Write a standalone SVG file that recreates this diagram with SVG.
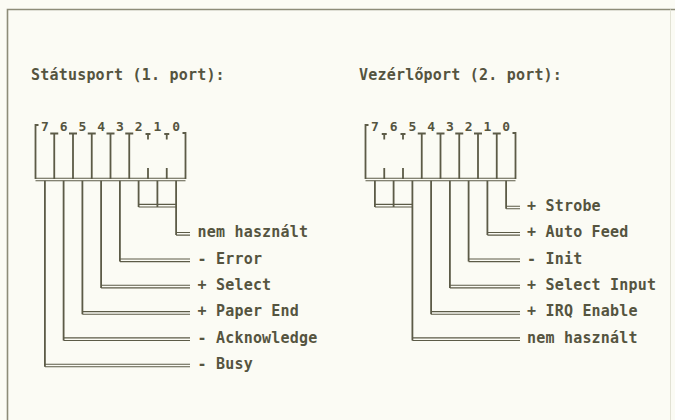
<svg xmlns="http://www.w3.org/2000/svg" width="675" height="420" viewBox="0 0 675 420">
<style>
.t{font-family:"DejaVu Sans Mono","Liberation Mono",monospace;font-size:15px;font-weight:bold;fill:#55543f;letter-spacing:0.2px}
.d{font-family:"DejaVu Sans Mono","Liberation Mono",monospace;font-size:13px;font-weight:bold;fill:#55543f;text-anchor:middle}
.ln{fill:none;stroke:#5c5b47;stroke-width:1.8}
.dl{fill:none;stroke:#5c5b47;stroke-width:1.1}
.bd{fill:none;stroke:#8d8c78;stroke-width:1.6}
</style>
<rect x="0" y="0" width="675" height="420" fill="#fbfbf4"/>
<g id="frame">
<path class="bd" d="M7.5,420 V9.5 H675"/>
<path d="M670.5,9.5 V420" stroke="#e2e2d4" stroke-width="1" fill="none"/>
</g>
<g id="title-status"><text class="t" x="31" y="80">Státusport (1. port):</text></g>
<g id="title-control"><text class="t" x="359" y="80">Vezérlőport (2. port):</text></g>

<g id="status-register">
<path class="ln" d="M38.5,125 H35.5 V179 M182.5,133 H185.5 V179"/>
<path class="ln" d="M50.25,133.5 H58.25 M54.25,133.5 V179 M69,133.5 H77 M73,133.5 V179 M87.75,133.5 H95.75 M91.75,133.5 V179 M106.5,133.5 H114.5 M110.5,133.5 V179 M125.25,133.5 H133.25 M129.25,133.5 V179"/>
<path class="ln" d="M145.5,134 H150.5 M148,134 V139.5 M148,168 V179 M164.25,134 H169.25 M166.75,134 V139.5 M166.75,168 V179"/>
<path class="dl" d="M35.5,178.2 H185.5 M35.5,180.8 H185.5"/>
<text class="d" x="44.9" y="131">7</text><text class="d" x="63.6" y="131">6</text><text class="d" x="82.4" y="131">5</text><text class="d" x="101.1" y="131">4</text><text class="d" x="119.9" y="131">3</text><text class="d" x="138.6" y="131">2</text><text class="d" x="157.4" y="131">1</text><text class="d" x="176.1" y="131">0</text>
</g>

<g id="control-register">
<path class="ln" d="M368.5,125 H365.5 V179 M512.5,133 H515.5 V179"/>
<path class="ln" d="M381.75,134 H386.75 M384.25,134 V139.5 M384.25,168 V179 M400.5,134 H405.5 M403,134 V139.5 M403,168 V179"/>
<path class="ln" d="M417.75,133.5 H425.75 M421.75,133.5 V179 M436.5,133.5 H444.5 M440.5,133.5 V179 M455.25,133.5 H463.25 M459.25,133.5 V179 M474,133.5 H482 M478,133.5 V179 M492.75,133.5 H500.75 M496.75,133.5 V179"/>
<path class="dl" d="M365.5,178.2 H515.5 M365.5,180.8 H515.5"/>
<text class="d" x="374.9" y="131">7</text><text class="d" x="393.6" y="131">6</text><text class="d" x="412.4" y="131">5</text><text class="d" x="431.1" y="131">4</text><text class="d" x="449.9" y="131">3</text><text class="d" x="468.6" y="131">2</text><text class="d" x="487.4" y="131">1</text><text class="d" x="506.1" y="131">0</text>
</g>

<g id="connectors">
<path class="ln" d="M44.9,180.8 V366.8 M63.6,180.8 V340.5 M82.4,180.8 V314.2 M101.1,180.8 V287.9 M119.9,180.8 V261.6 M138.6,180.8 V207 M157.4,180.8 V207 M176.1,180.8 V235.1"/>
<path class="dl" d="M44.9,364.2 H190 M44.9,366.8 H190 M63.6,337.9 H190 M63.6,340.5 H190 M82.4,311.6 H190 M82.4,314.2 H190 M101.1,285.3 H190 M101.1,287.9 H190 M119.9,259 H190 M119.9,261.6 H190 M138.6,204.4 H176.1 M138.6,207 H176.1 M176.1,232.5 H190 M176.1,235.1 H190"/>
<path class="ln" d="M374.9,180.8 V207 M393.6,180.8 V207 M412.4,180.8 V340.5 M431.1,180.8 V314.2 M449.9,180.8 V287.9 M468.6,180.8 V261.6 M487.4,180.8 V235.1 M506.1,180.8 V208.8"/>
<path class="dl" d="M374.9,204.4 H412.4 M374.9,207 H412.4 M412.4,337.9 H520 M412.4,340.5 H520 M431.1,311.6 H520 M431.1,314.2 H520 M449.9,285.3 H520 M449.9,287.9 H520 M468.6,259 H520 M468.6,261.6 H520 M487.4,232.5 H520 M487.4,235.1 H520 M506.1,206.2 H520 M506.1,208.8 H520"/>
</g>

<g id="status-labels">
<text class="t" x="197.5" y="237.1">nem használt</text>
<text class="t" x="197.5" y="263.6">- Error</text>
<text class="t" x="197.5" y="289.9">+ Select</text>
<text class="t" x="197.5" y="316.2">+ Paper End</text>
<text class="t" x="197.5" y="342.5">- Acknowledge</text>
<text class="t" x="197.5" y="368.8">- Busy</text>
</g>
<g id="control-labels">
<text class="t" x="527" y="210.8">+ Strobe</text>
<text class="t" x="527" y="237.1">+ Auto Feed</text>
<text class="t" x="527" y="263.6">- Init</text>
<text class="t" x="527" y="289.9">+ Select Input</text>
<text class="t" x="527" y="316.2">+ IRQ Enable</text>
<text class="t" x="527" y="342.5">nem használt</text>
</g>
</svg>
